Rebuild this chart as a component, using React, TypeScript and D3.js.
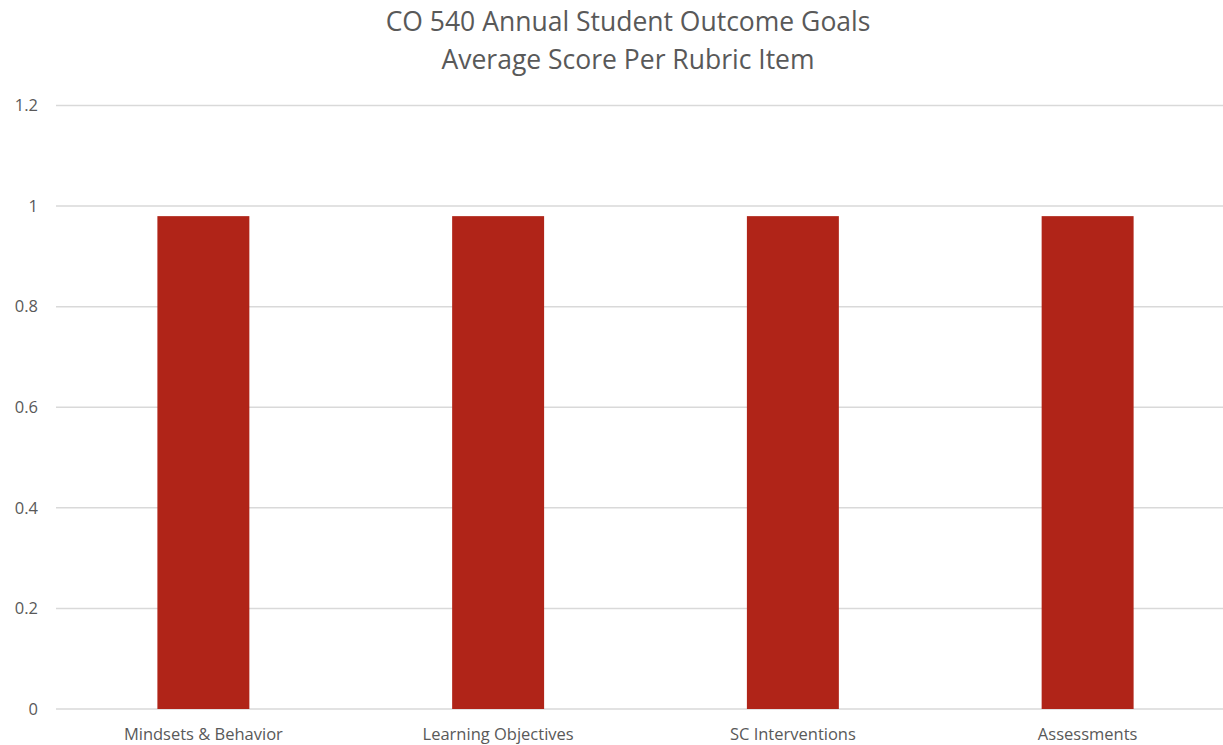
import React from "react";
import * as d3 from "d3";

const categories = ["Mindsets & Behavior", "Learning Objectives", "SC Interventions", "Assessments"];
const scores = [0.98, 0.98, 0.98, 0.98];
const yTicks = [0, 0.2, 0.4, 0.6, 0.8, 1, 1.2];
const yTickLabels = ["0", "0.2", "0.4", "0.6", "0.8", "1", "1.2"];
const titleLines = ["CO 540 Annual Student Outcome Goals", "Average Score Per Rubric Item"];

const W = 1223;
const H = 745;
const plotLeft = 56;
const plotRight = 1235;
const plotTop = 105.5;
const plotBottom = 709;
const font = "'Open Sans', 'Liberation Sans', sans-serif";
const textColor = "#595959";

export default function App() {
  const x = d3
    .scaleBand<string>()
    .domain(categories)
    .range([plotLeft, plotRight])
    .paddingInner(0.688)
    .paddingOuter(0.344);
  const y = d3.scaleLinear().domain([0, 1.2]).range([plotBottom, plotTop]);

  return (
    <svg
      width={W}
      height={H}
      style={{ position: "absolute", left: 0, top: 0, background: "#fff" }}
      fontFamily={font}
    >
      <rect width={W} height={H} fill="#fff" />
      {titleLines.map((t, i) => (
        <text
          key={t}
          x={628}
          y={31 + i * 38}
          textAnchor="middle"
          fontSize={26.5}
          fill={textColor}
        >
          {t}
        </text>
      ))}
      {yTicks.map((v, i) => (
        <g key={v}>
          <line
            x1={plotLeft}
            x2={W}
            y1={y(v)}
            y2={y(v)}
            stroke="#d9d9d9"
            strokeWidth={1.5}
          />
          <text
            x={38}
            y={y(v)}
            dy="0.35em"
            textAnchor="end"
            fontSize={16.5}
            fill={textColor}
          >
            {yTickLabels[i]}
          </text>
        </g>
      ))}
      {categories.map((c, i) => (
        <rect
          key={c}
          x={x(c)}
          y={y(scores[i])}
          width={x.bandwidth()}
          height={y(0) - y(scores[i])}
          fill="#b02418"
        />
      ))}
      {categories.map((c) => (
        <text
          key={c}
          x={(x(c) as number) + x.bandwidth() / 2}
          y={740}
          textAnchor="middle"
          fontSize={16.5}
          fill={textColor}
        >
          {c}
        </text>
      ))}
    </svg>
  );
}
